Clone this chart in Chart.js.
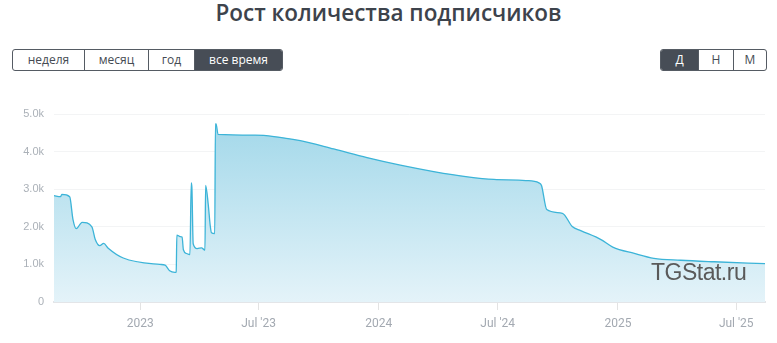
<!DOCTYPE html>
<html>
<head>
<meta charset="utf-8">
<script src="https://cdn.jsdelivr.net/npm/chart.js@4.4.1/dist/chart.umd.min.js"></script>
<style>
  html,body{margin:0;padding:0;background:#fff;}
  body{width:777px;height:343px;position:relative;overflow:hidden;font-family:"Open Sans",sans-serif;}
  #title{position:absolute;left:0;top:-1px;width:777px;text-align:center;font-size:22.5px;font-weight:600;color:#3d434c;line-height:28px;}
  .grp{position:absolute;top:49px;height:22px;display:flex;border:1px solid #555b63;border-radius:3px;overflow:hidden;box-sizing:border-box;}
  .grp div{height:20px;line-height:20px;font-size:12px;color:#454b53;text-align:center;border-left:1px solid #555b63;box-sizing:border-box;}
  .grp div:first-child{border-left:none;}
  .grp div.on{background:#474d56;color:#fff;}
  #wrap{position:absolute;left:0;top:100px;width:777px;height:243px;}
  #wm{position:absolute;left:651px;top:258px;font-family:"Liberation Sans",Arial,sans-serif;font-size:23px;letter-spacing:-0.5px;color:#5a5a5a;line-height:28px;}
</style>
</head>
<body>
<div id="title">Рост количества подписчиков</div>
<div class="grp" style="left:12px;width:271px;">
  <div style="width:71px">неделя</div>
  <div style="width:64px">месяц</div>
  <div style="width:46px">год</div>
  <div class="on" style="width:88px">все время</div>
</div>
<div class="grp" style="left:660px;width:107px;">
  <div class="on" style="width:37px">Д</div>
  <div style="width:35px">Н</div>
  <div style="width:33px">М</div>
</div>
<div id="wrap"><canvas id="c" width="777" height="243"></canvas></div>
<div id="wm">TGStat.ru</div>
<script>
const dates = [
  '2022-08-22','2022-09-01','2022-09-03','2022-09-15','2022-09-20','2022-09-25','2022-10-04','2022-10-19',
  '2022-10-24','2022-10-31','2022-11-06','2022-11-13','2022-12-06','2023-01-31','2023-02-08','2023-02-15',
  '2023-02-23','2023-02-25','2023-02-26','2023-03-03','2023-03-06','2023-03-08','2023-03-13','2023-03-18',
  '2023-03-20','2023-03-21','2023-03-23','2023-03-29','2023-04-05','2023-04-08','2023-04-10','2023-04-11',
  '2023-04-15','2023-04-18','2023-04-20','2023-04-25','2023-04-26','2023-04-27','2023-04-30','2023-06-26',
  '2023-09-03','2023-10-24','2023-12-14','2024-02-03','2024-03-25','2024-05-16','2024-06-25','2024-08-13',
  '2024-09-02','2024-09-06','2024-09-14','2024-10-08','2024-10-23','2024-11-05','2024-12-06','2024-12-24',
  '2025-01-26','2025-02-25','2025-04-07','2025-05-28','2025-08-14'
];
const subscribers = [
  2830,2800,2860,2800,2200,1950,2120,2000,
  1670,1500,1560,1430,1170,1000,980,830,
  790,800,1780,1740,1730,1390,1290,1260,
  3170,3050,1550,1420,1440,1400,1380,3100,
  2600,2040,1840,1820,4740,4740,4460,4440,
  4290,4070,3840,3640,3470,3330,3260,3230,
  3170,3100,2460,2360,2010,1900,1660,1460,
  1290,1160,1110,1070,1020
];
const tickDates = ['2023-01-01','2023-07-01','2024-01-01','2024-07-01','2025-01-01','2025-07-01'];
const tickLabels = ['2023',"Jul '23",'2024',"Jul '24",'2025',"Jul '25"];
const yTicks = [0,1000,2000,3000,4000,5000];

const ts = s => Date.parse(s + 'T00:00:00Z');
const points = dates.map((d,i)=>({x:ts(d), y:subscribers[i]}));
const tickTs = tickDates.map(ts);

const ctx = document.getElementById('c').getContext('2d');
const grad = ctx.createLinearGradient(0, 14, 0, 202);
grad.addColorStop(0, 'rgba(160,215,233,1)');
grad.addColorStop(1, 'rgba(228,243,249,1)');

new Chart(ctx, {
  type: 'line',
  data: { datasets: [{
    data: points,
    borderColor: '#3cb4d8',
    borderWidth: 1.3,
    backgroundColor: grad,
    fill: 'origin',
    pointRadius: 0,
    cubicInterpolationMode: 'monotone'
  }]},
  options: {
    responsive: false,
    animation: false,
    events: [],
    layout: { padding: { left: 0, right: 12, top: 14, bottom: 0 } },
    plugins: { legend: { display: false }, tooltip: { enabled: false } },
    scales: {
      x: {
        type: 'linear',
        min: points[0].x,
        max: points[points.length-1].x,
        afterBuildTicks: ax => { ax.ticks = tickTs.map(v => ({ value: v })); },
        afterFit: ax => { ax.height = 41; ax.paddingLeft = 0; ax.paddingRight = 0; },
        ticks: {
          autoSkip: false, maxRotation: 0, padding: 7,
          color: '#a3a9b1',
          font: { family: '"Liberation Sans Narrow", Roboto, sans-serif', size: 12 },
          callback: v => { const i = tickTs.indexOf(v); return i >= 0 ? tickLabels[i] : ''; }
        },
        grid: { drawOnChartArea: false, drawTicks: true, tickLength: 8, color: '#e3e3e3', lineWidth: 1 },
        border: { display: true, color: '#e3e5e8', width: 2 }
      },
      y: {
        min: 0, max: 5000,
        afterBuildTicks: ax => { ax.ticks = yTicks.map(v => ({ value: v })); },
        afterFit: ax => { ax.width = 54; ax.paddingTop = 0; ax.paddingBottom = 0; },
        ticks: {
          padding: 10, color: '#abb1b8',
          font: { family: '"Liberation Sans", Arial, sans-serif', size: 11 },
          callback: v => v === 0 ? '0' : (v/1000).toFixed(1) + 'k'
        },
        grid: { drawTicks: false, color: '#f3f4f5', lineWidth: 1 },
        border: { display: false }
      }
    }
  }
});
</script>
</body>
</html>
